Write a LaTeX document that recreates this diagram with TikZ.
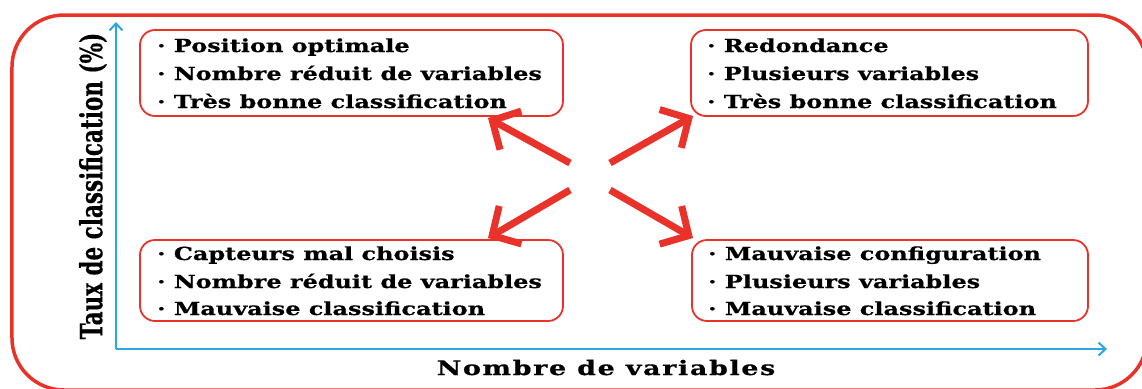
\documentclass[tikz,border=0pt]{standalone}
\usepackage{fontspec}
\setmainfont{DejaVu Serif}
\newfontfamily\boxfont[FakeStretch=1.33,FakeBold=0.6]{DejaVu Serif}
\newfontfamily\xlabfont[FakeStretch=1.35,LetterSpace=8,FakeBold=0.6]{DejaVu Serif}
\newfontfamily\ylabfont[FakeBold=0.5]{DejaVu Serif}
\usetikzlibrary{arrows.meta}
\definecolor{myred}{HTML}{E8322A}
\definecolor{myblue}{HTML}{2AA8E0}
\begin{document}
\begin{tikzpicture}[x=1bp,y=-1bp,
  boxstyle/.style={draw=myred, line width=1.8bp, rounded corners=15bp, inner sep=0pt},
  item/.style={anchor=base west, inner sep=0pt, font=\boxfont\bfseries\fontsize{18bp}{22bp}\selectfont},
  axisline/.style={draw=myblue, line width=2bp, -{Straight Barb[length=7bp,width=13bp,line width=2bp]}},
  bigarrow/.style={draw=myred, line width=7bp, -{Straight Barb[length=21bp,width=44bp]}}]
\useasboundingbox (0,0) rectangle (1142,388);
% outer frame
\node[draw=myred, line width=3.5bp, rounded corners=52bp, minimum width=1135bp, minimum height=375bp, inner sep=0pt] (frame) at (579.5,202.5) {};
% axes
\coordinate (origin) at (116,349);
\coordinate (ytip) at (116,22);
\coordinate (xtip) at (1107,349);
\draw[axisline] (origin) -- (ytip);
\draw[axisline] (origin) -- (xtip);
\node[rotate=90, inner sep=0pt, font=\ylabfont\bfseries\fontsize{21.5bp}{24bp}\selectfont] (ylab) at (93,186) {\scalebox{1}[1.42]{Taux de classification (\%)}};
\node[anchor=base, inner sep=0pt, font=\xlabfont\bfseries\fontsize{20bp}{24bp}\selectfont] (xlab) at (606,375) {Nombre de variables};
% boxes
\node[boxstyle, minimum width=423bp, minimum height=86bp] (tl) at (351.5,73) {};
\node[boxstyle, minimum width=397bp, minimum height=86bp] (tr) at (889.5,73) {};
\node[boxstyle, minimum width=423bp, minimum height=81bp] (bl) at (351.5,280.5) {};
\node[boxstyle, minimum width=396bp, minimum height=81bp] (br) at (890,280.5) {};
% texts
\node[item] (tl1) at (157,52) {· Position optimale};
\node[item] (tl2) at (157,80) {· Nombre réduit de variables};
\node[item] (tl3) at (157,108) {· Très bonne classification};
\node[item] (tr1) at (707,52) {· Redondance};
\node[item] (tr2) at (707,80) {· Plusieurs variables};
\node[item] (tr3) at (707,108) {· Très bonne classification};
\node[item] (bl1) at (157,260) {· Capteurs mal choisis};
\node[item] (bl2) at (157,288) {· Nombre réduit de variables};
\node[item] (bl3) at (157,315) {· Mauvaise classification};
\node[item] (br1) at (708,260) {· Mauvaise configuration};
\node[item] (br2) at (708,288) {· Plusieurs variables};
\node[item] (br3) at (708,315) {· Mauvaise classification};
% arrows
\coordinate (c1) at (570,163);
\coordinate (c2) at (610,163);
\coordinate (c3) at (570,190);
\coordinate (c4) at (610,190);
\coordinate (t1) at (488,118);
\coordinate (t2) at (693,116);
\coordinate (t3) at (488,238);
\coordinate (t4) at (693,238);
\draw[bigarrow] (c1) -- (t1);
\draw[bigarrow] (c2) -- (t2);
\draw[bigarrow] (c3) -- (t3);
\draw[bigarrow] (c4) -- (t4);
\end{tikzpicture}
\end{document}
